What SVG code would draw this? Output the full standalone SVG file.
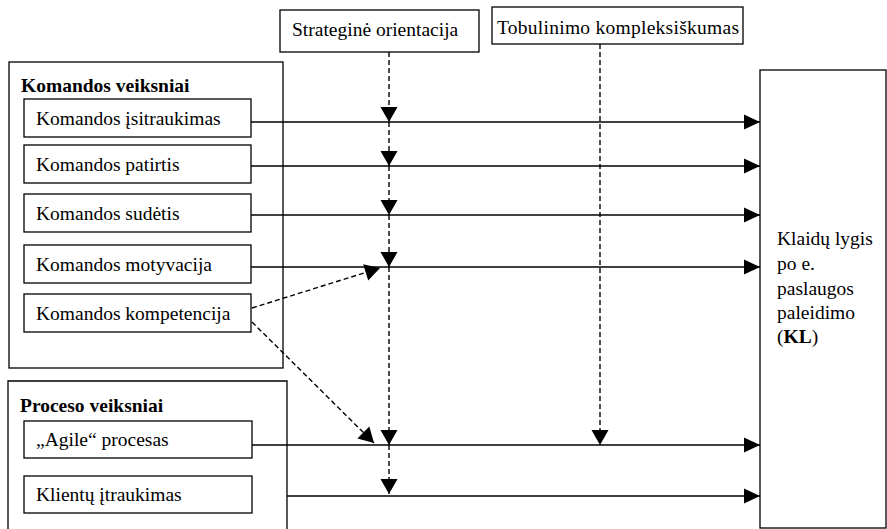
<svg xmlns="http://www.w3.org/2000/svg" width="887" height="529" viewBox="0 0 887 529">
<style>
  .box { fill: #fff; stroke: #000; stroke-width: 1.3; }
  .frame { fill: none; stroke: #000; stroke-width: 1.3; }
  text { font-family: 'Liberation Serif', serif; font-size: 19.5px; fill: #000; }
  .b { font-weight: bold; }
  .solid { fill: none; stroke: #000; stroke-width: 1.4; marker-end: url(#ah); }
  .dash { fill: none; stroke: #000; stroke-width: 1.4; stroke-dasharray: 5 3; marker-end: url(#av); }
</style>
<defs>
  <marker id="ah" markerUnits="userSpaceOnUse" markerWidth="16" markerHeight="15" refX="16" refY="7.5" orient="auto" overflow="visible">
    <path d="M0,0 L16,7.5 L0,15 Z" fill="#000" stroke="none"/>
  </marker>
  <marker id="av" markerUnits="userSpaceOnUse" markerWidth="15" markerHeight="17" refX="15" refY="8.5" orient="auto" overflow="visible">
    <path d="M0,0 L15,8.5 L0,17 Z" fill="#000" stroke="none"/>
  </marker>
</defs>
<rect width="887" height="529" fill="#fff"/>

<g id="komandos-veiksniai">
  <rect class="frame" x="9" y="62" width="274" height="306"/>
  <text class="b" x="21" y="92">Komandos veiksniai</text>
</g>
<g id="proceso-veiksniai">
  <path class="frame" d="M8,531 L8,381 L287,381 L287,531"/>
  <text class="b" x="20" y="412">Proceso veiksniai</text>
</g>

<g id="strategine">
  <rect class="box" x="280" y="10" width="199" height="42"/>
  <text x="292" y="36">Strateginė orientacija</text>
</g>
<g id="tobulinimo">
  <rect class="box" x="492" y="7" width="251" height="37"/>
  <text x="497" y="34" textLength="242" lengthAdjust="spacing">Tobulinimo kompleksiškumas</text>
</g>

<g id="isitraukimas">
  <rect class="box" x="24" y="99" width="227" height="38"/>
  <text x="36" y="124.5">Komandos įsitraukimas</text>
</g>
<g id="patirtis">
  <rect class="box" x="24" y="145" width="227" height="38"/>
  <text x="36" y="170.5">Komandos patirtis</text>
</g>
<g id="sudetis">
  <rect class="box" x="24" y="194" width="227" height="38"/>
  <text x="36" y="219.5">Komandos sudėtis</text>
</g>
<g id="motyvacija">
  <rect class="box" x="24" y="245" width="227" height="38"/>
  <text x="36" y="270.5">Komandos motyvacija</text>
</g>
<g id="kompetencija">
  <rect class="box" x="24" y="294" width="227" height="38"/>
  <text x="36" y="319.5">Komandos kompetencija</text>
</g>
<g id="agile">
  <rect class="box" x="24" y="421" width="228" height="37"/>
  <text x="36" y="446">„Agile“ procesas</text>
</g>
<g id="klientu">
  <rect class="box" x="24" y="476" width="228" height="37"/>
  <text x="36" y="501">Klientų įtraukimas</text>
</g>

<g id="kl">
  <rect class="box" x="760" y="70" width="126" height="458"/>
  <text x="777" y="245">Klaidų lygis</text>
  <text x="777" y="270">po e.</text>
  <text x="777" y="294.5">paslaugos</text>
  <text x="777" y="319">paleidimo</text>
  <text x="777" y="343">(<tspan class="b">KL</tspan>)</text>
</g>

<g id="connectors">
  <path class="solid" d="M251,122 L760,122"/>
  <path class="solid" d="M251,166 L760,166"/>
  <path class="solid" d="M251,215 L760,215"/>
  <path class="solid" d="M251,267 L760,267"/>
  <path class="solid" d="M252,445 L760,445"/>
  <path class="solid" d="M287,496 L760,496"/>

  <path class="dash" d="M389,52 L389,122"/>
  <path class="dash" d="M389,122 L389,166"/>
  <path class="dash" d="M389,166 L389,215"/>
  <path class="dash" d="M389,215 L389,267"/>
  <path class="dash" d="M389,267 L389,445"/>
  <path class="dash" d="M389,445 L389,494"/>

  <path class="dash" d="M600,44 L600,445"/>

  <path class="dash" d="M252,308 L380,268"/>
  <path class="dash" d="M252,322 L374,443"/>
</g>
</svg>
